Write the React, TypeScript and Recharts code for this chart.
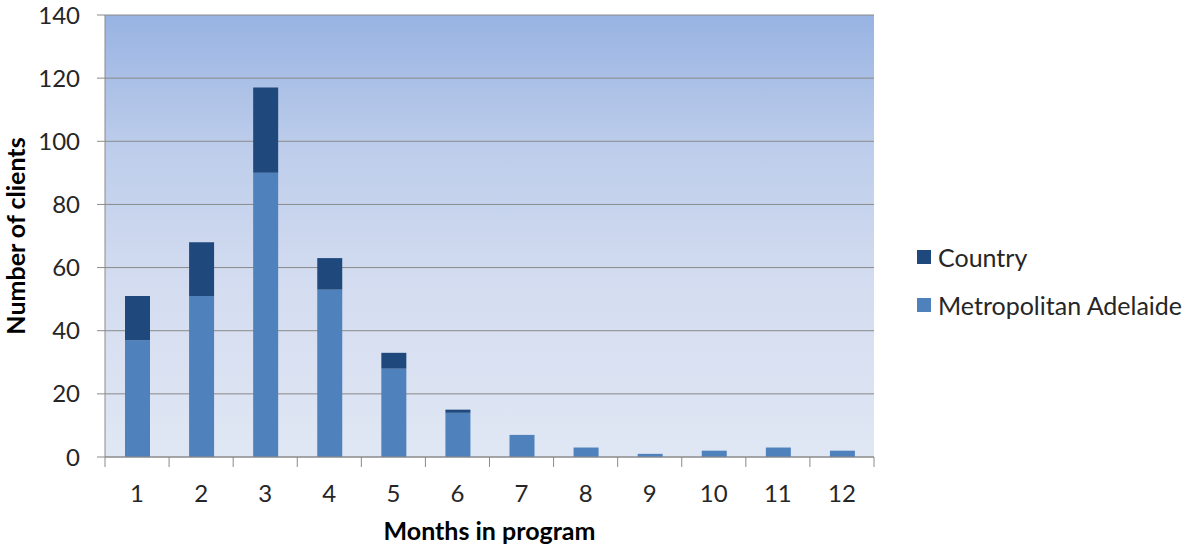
import { BarChart, Bar, XAxis, YAxis, CartesianGrid, Legend } from 'recharts';

const months = ['1', '2', '3', '4', '5', '6', '7', '8', '9', '10', '11', '12'];
const metropolitanAdelaide = [37, 51, 90, 53, 28, 14, 7, 3, 1, 2, 3, 2];
const country = [14, 17, 27, 10, 5, 1, 0, 0, 0, 0, 0, 0];
const clientTicks = [0, 20, 40, 60, 80, 100, 120, 140];
const legendOrder = ['Country', 'Metropolitan Adelaide'];

const chartData = months.map((month, i) => ({
  month,
  metro: metropolitanAdelaide[i],
  country: country[i],
}));

const WIDTH = 1184;
const HEIGHT = 544;
const MARGIN = { top: 15, right: 310, bottom: 0, left: 0 };
const Y_AXIS_WIDTH = 105;
const X_AXIS_HEIGHT = 87;
const PLOT_WIDTH = WIDTH - MARGIN.left - MARGIN.right - Y_AXIS_WIDTH;
const STEP = PLOT_WIDTH / months.length;

const FONT = 'Lato, "Noto Sans", sans-serif';
const TEXT = '#262626';
const LINE = '#8a8a8a';

// Month label, with the tick marks sitting on the category boundaries
function MonthTick({ x, y, payload, index }: any) {
  const left = x - STEP / 2;
  const right = x + STEP / 2;
  return (
    <g>
      <line x1={left} y1={y} x2={left} y2={y + 10} stroke={LINE} />
      {index === months.length - 1 && (
        <line x1={right} y1={y} x2={right} y2={y + 10} stroke={LINE} />
      )}
      <text x={x} y={y + 36} dy="0.36em" textAnchor="middle" fill={TEXT} fontSize={24} fontFamily={FONT}>
        {payload.value}
      </text>
    </g>
  );
}

function YTitle({ viewBox }: any) {
  const cx = 16;
  const cy = viewBox.y + viewBox.height / 2;
  return (
    <text
      x={cx}
      y={cy}
      dy="0.36em"
      transform={`rotate(-90, ${cx}, ${cy})`}
      textAnchor="middle"
      fill="#000"
      fontSize={25}
      fontWeight={700}
      fontFamily={FONT}
    >
      Number of clients
    </text>
  );
}

function XTitle({ viewBox }: any) {
  const cx = viewBox.x + viewBox.width / 2;
  const cy = viewBox.y + 74;
  return (
    <text x={cx} y={cy} dy="0.36em" textAnchor="middle" fill="#000" fontSize={25} fontWeight={700} fontFamily={FONT}>
      Months in program
    </text>
  );
}

function SeriesLegend({ payload }: any) {
  const items = [...(payload || [])].sort(
    (a: any, b: any) => legendOrder.indexOf(a.value) - legendOrder.indexOf(b.value)
  );
  return (
    <div style={{ fontFamily: FONT, fontSize: 25, color: TEXT }}>
      {items.map((item: any) => (
        <div key={item.value} style={{ display: 'flex', alignItems: 'center', height: 48 }}>
          <span style={{ width: 14, height: 14, background: item.color, marginRight: 7 }} />
          <span>{item.value}</span>
        </div>
      ))}
    </div>
  );
}

export default function App() {
  return (
    <div style={{ position: 'absolute', left: 0, top: 0, width: WIDTH, height: HEIGHT, background: '#fff' }}>
      <BarChart width={WIDTH} height={HEIGHT} data={chartData} margin={MARGIN} barSize={25}>
        <defs>
          <linearGradient id="plotFill" x1="0" y1="0" x2="0" y2="1">
            <stop offset="0%" stopColor="#98b3e2" />
            <stop offset="30%" stopColor="#bdcdeb" />
            <stop offset="60%" stopColor="#d3dcf0" />
            <stop offset="100%" stopColor="#e0e7f4" />
          </linearGradient>
        </defs>
        <CartesianGrid vertical={false} stroke={LINE} fill="url(#plotFill)" fillOpacity={1} />
        <XAxis
          dataKey="month"
          height={X_AXIS_HEIGHT}
          interval={0}
          tickSize={0}
          tickMargin={0}
          tickLine={false}
          axisLine={{ stroke: LINE }}
          tick={<MonthTick />}
          label={<XTitle />}
        />
        <YAxis
          width={Y_AXIS_WIDTH}
          domain={[0, 140]}
          ticks={clientTicks}
          tickSize={8}
          tickMargin={17}
          axisLine={{ stroke: LINE }}
          tickLine={{ stroke: LINE }}
          tick={{ fill: TEXT, fontSize: 24, fontFamily: FONT }}
          label={<YTitle />}
        />
        <Legend
          layout="vertical"
          align="center"
          verticalAlign="middle"
          content={<SeriesLegend />}
          wrapperStyle={{ left: 917, top: 233, width: 267 }}
        />
        <Bar dataKey="metro" name="Metropolitan Adelaide" stackId="clients" fill="#4f81bd" isAnimationActive={false} />
        <Bar dataKey="country" name="Country" stackId="clients" fill="#1f497d" isAnimationActive={false} />
      </BarChart>
    </div>
  );
}
